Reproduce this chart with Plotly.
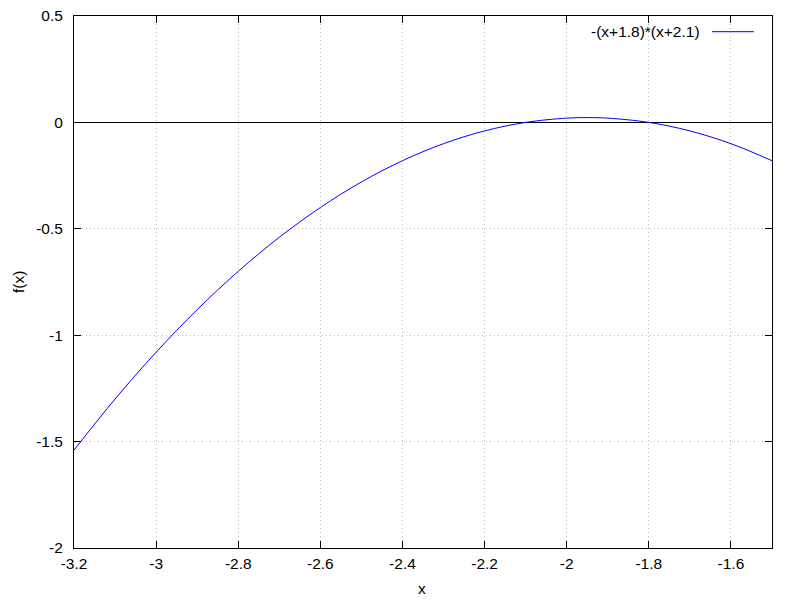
import plotly.graph_objects as go

x_vals = [-3.2, -3.1, -3.0, -2.9, -2.8, -2.7, -2.6, -2.5, -2.4, -2.3, -2.2, -2.1,
          -2.0, -1.95, -1.9, -1.8, -1.7, -1.6, -1.5]
y_vals = [-1.54, -1.30, -1.08, -0.88, -0.70, -0.54, -0.40, -0.28, -0.18, -0.10, -0.04, 0.0,
          0.02, 0.0225, 0.02, 0.0, -0.04, -0.10, -0.18]
series_name = "-(x+1.8)*(x+2.1)"
x_ticks = [-3.2, -3.0, -2.8, -2.6, -2.4, -2.2, -2.0, -1.8, -1.6]
x_tick_labels = ["-3.2", "-3", "-2.8", "-2.6", "-2.4", "-2.2", "-2", "-1.8", "-1.6"]
y_ticks = [-2, -1.5, -1, -0.5, 0, 0.5]
y_tick_labels = ["-2", "-1.5", "-1", "-0.5", "0", "0.5"]
x_title = "x"
y_title = "f(x)"

font = dict(family="Liberation Sans, Arial, sans-serif", size=15.5, color="black")

fig = go.Figure()
fig.add_trace(go.Scatter(x=x_vals, y=y_vals, mode="lines", name=series_name,
                         line=dict(color="blue", width=1, shape="spline"),
                         showlegend=False))

fig.update_layout(
    width=800, height=600,
    margin=dict(l=74, r=28, t=16, b=52),
    paper_bgcolor="white", plot_bgcolor="white",
    font=font,
    showlegend=False,
)
common = dict(
    ticks="inside", ticklen=7, tickcolor="black", tickwidth=1,
    showline=True, linecolor="black", linewidth=1, mirror="allticks",
    showgrid=True, gridcolor="#bdbdbd", griddash="1px,3px", gridwidth=1,
    automargin=False,
)
fig.update_xaxes(
    range=[-3.2, -1.5], tickvals=x_ticks, ticktext=x_tick_labels,
    zeroline=False,
    ticklabelstandoff=1,
    **common,
)
fig.update_yaxes(
    range=[-2, 0.5], tickvals=y_ticks, ticktext=y_tick_labels,
    zeroline=True, zerolinecolor="black", zerolinewidth=1,
    ticklabelstandoff=7,
    **common,
)
# axis titles
fig.add_annotation(xref="paper", yref="paper", x=0.4986, y=-0.0752, text=x_title,
                   showarrow=False, xanchor="center", yanchor="middle", font=font)
fig.add_annotation(xref="paper", yref="paper", x=-0.0802, y=0.5, text=y_title,
                   showarrow=False, xanchor="center", yanchor="middle", textangle=-90,
                   font=font)
# legend sample (gnuplot style: text then line)
fig.add_annotation(xref="paper", yref="paper", x=0.8997, y=0.9705, text=series_name,
                   showarrow=False, xanchor="right", yanchor="middle", font=font)
fig.add_shape(type="line", xref="paper", yref="paper", x0=0.914, x1=0.974,
              y0=0.9705, y1=0.9705, line=dict(color="blue", width=1))

fig.write_html("out.html", config={"displayModeBar": False},
               post_script="document.body.style.margin='0';document.body.style.overflow='hidden';")
